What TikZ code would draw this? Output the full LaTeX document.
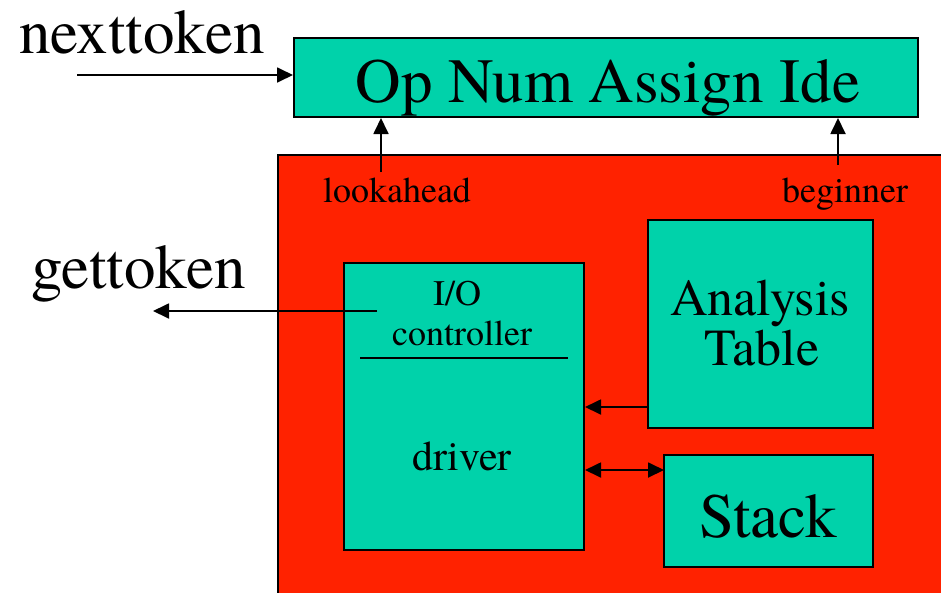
\documentclass[tikz,border=0pt]{standalone}
\usepackage{fontspec}
\setmainfont{TeX Gyre Termes}
\usetikzlibrary{positioning, arrows.meta}
\definecolor{boxteal}{RGB}{0,210,170}
\definecolor{panelred}{RGB}{255,34,0}
\tikzset{box/.style={draw,rectangle,fill=boxteal,line width=2pt,inner sep=0pt},
	lbl/.style={anchor=base,inner sep=0pt,align=center,font=\rmfamily},
	arr/.style={-{Triangle[length=16pt,width=15pt]},line width=1.8pt},
	dblarr/.style={{Triangle[length=16pt,width=15pt]}-{Triangle[length=16pt,width=15pt]},line width=1.8pt}}
\newcommand{\fsz}[1]{\rmfamily\fontsize{#1}{#1}\selectfont}

\begin{document}
\begin{tikzpicture}[x=1pt,y=-1pt]
		\useasboundingbox (0,0) rectangle (941,592);
		\clip (0,0) rectangle (941,592);
		% Draw parser panel
		\draw[fill=panelred,line width=2pt] (278,155) rectangle (960,610);
		% Draw boxes
		\node[box, minimum width=624, minimum height=79] (toks) at (606,77.5) {};
		\node[box, minimum width=240, minimum height=287] (drv) at (464,406.5) {};
		\node[box, minimum width=225, minimum height=208] (table) at (760.5,324) {};
		\node[box, minimum width=209, minimum height=112] (stack) at (768.5,511) {};
		\draw[line width=1.8pt] (360,358) -- (568,358);
		% Texts
		\node[lbl] (nt) at (142,53) {\fsz{63}nexttoken};
		\node[lbl] (tokstxt) at (608,102) {\fsz{63}Op Num Assign Ide};
		\node[lbl] (gt) at (138.5,288) {\fsz{63}gettoken};
		\node[lbl] (la) at (397,202) {\fsz{36}lookahead};
		\node[lbl] (bg) at (845,202) {\fsz{36}beginner};
		\node[lbl] (io) at (457,305) {\fsz{36}I/O};
		\node[lbl] (ctl) at (462,345) {\fsz{36}controller};
		\node[lbl] (drvtxt) at (462,470) {\fsz{42}driver};
		\node[lbl] (an) at (760,315) {\fsz{52}Analysis};
		\node[lbl] (tb) at (762,365) {\fsz{52}Table};
		\node[lbl] (sttxt) at (768,537) {\fsz{63}Stack};
		% Connector ends
		\coordinate (ntin) at (77,75);
		\coordinate (laup) at (381,172);
		\coordinate (bgup) at (838,165);
		\coordinate (gtout) at (377,311);
		\coordinate (gtend) at (153,311);
		\coordinate (tbout) at (648,407);
		\coordinate (stin) at (664,470);
		% Draw arrows
		\draw[arr] (ntin) -- (ntin -| toks.west);
		\draw[arr] (laup) -- (laup |- toks.south);
		\draw[arr] (bgup) -- (bgup |- toks.south);
		\draw[arr] (gtout) -- (gtend);
		\draw[arr] (tbout) -- (tbout -| drv.east);
		\draw[dblarr] (stin -| drv.east) -- (stin);
	\end{tikzpicture}
\end{document}
